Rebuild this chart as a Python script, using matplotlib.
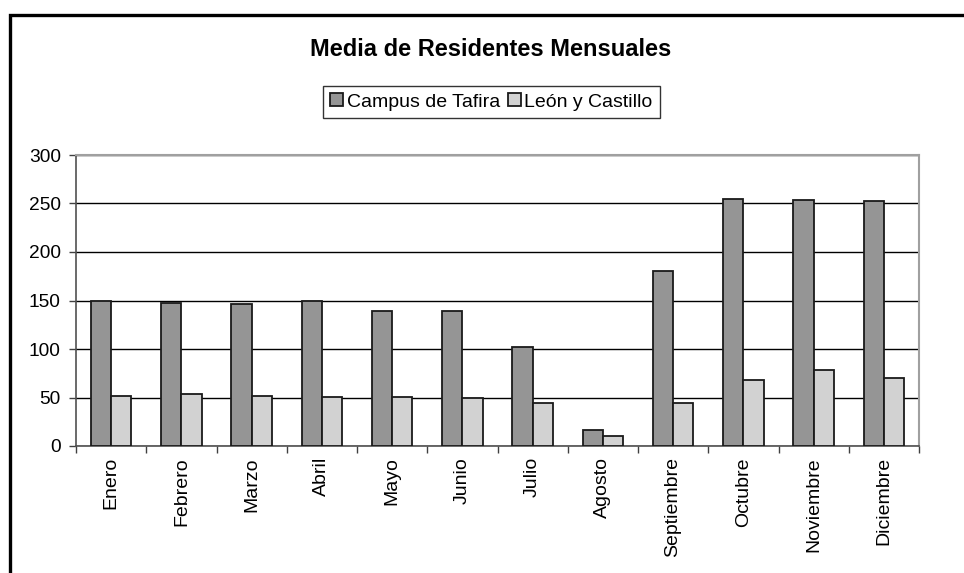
import matplotlib
matplotlib.use("Agg")
import matplotlib.pyplot as plt
import numpy as np
from matplotlib.patches import Rectangle

months = ["Enero", "Febrero", "Marzo", "Abril", "Mayo", "Junio", "Julio",
          "Agosto", "Septiembre", "Octubre", "Noviembre", "Diciembre"]
campus_tafira = [149, 147, 146, 149, 139, 139, 102, 17, 180, 255, 254, 253]
leon_castillo = [52, 54, 52, 51, 51, 50, 44, 10, 44, 68, 78, 70]
yticks = [0, 50, 100, 150, 200, 250, 300]

plt.rcParams['font.family'] = ['Liberation Sans', 'DejaVu Sans']

fig = plt.figure(figsize=(9.64, 5.73), dpi=100)
ax = fig.add_axes([76/964, 1-446/573, (919-76)/964, (446-155)/573])

x = np.arange(len(months))
w = 0.29
ax.bar(x - w/2, campus_tafira, width=w, color='#959595', edgecolor='#1a1a1a',
       linewidth=1.3, label='Campus de Tafira', zorder=3)
ax.bar(x + w/2, leon_castillo, width=w, color='#d2d2d2', edgecolor='#1a1a1a',
       linewidth=1.3, label='León y Castillo', zorder=3)

ax.set_xlim(-0.5, len(months) - 0.5)
ax.set_ylim(0, 300)
ax.set_yticks(yticks)
ax.set_yticklabels([str(v) for v in yticks], fontsize=13.8)
ax.yaxis.grid(True, color='#000000', linewidth=1.0, zorder=0)
ax.set_axisbelow(True)

ax.set_xticks(np.arange(len(months) + 1) - 0.5)
ax.set_xticklabels([])
ax.set_xticks(x, minor=True)
ax.set_xticklabels(months, minor=True, rotation=90, fontsize=14, va='top', ha='center')
ax.tick_params(axis='x', which='minor', length=0, pad=8)
ax.tick_params(axis='x', which='major', length=5, width=1, color='#404040', direction='out')
ax.tick_params(axis='y', length=5, width=1, color='#404040', direction='out', pad=6)

for s in ['top', 'right']:
    ax.spines[s].set_color('#a0a0a0')
    ax.spines[s].set_linewidth(1.5)
for s in ['left', 'bottom']:
    ax.spines[s].set_color('#505050')
    ax.spines[s].set_linewidth(1.2)

fig.text(491/964, 1-56/573, "Media de Residentes Mensuales", ha='center',
         va='baseline', fontsize=17, fontweight='bold')

leg = fig.legend(loc='center', bbox_to_anchor=(491.5/964, 1-102/573), ncol=2,
                 fontsize=14, frameon=True, fancybox=False, shadow=False,
                 handlelength=0.65, handleheight=0.65, handletextpad=0.2,
                 columnspacing=0.4, borderpad=0.4, borderaxespad=0)
leg.get_frame().set_edgecolor('#000000')
leg.get_frame().set_linewidth(1.0)

fig.patches.append(Rectangle((9.5/964, -0.1), 1.2, 1.1 - 14.5/573,
                             transform=fig.transFigure, fill=False,
                             edgecolor='black', linewidth=2.4))

fig.savefig("out.png", dpi=100)
